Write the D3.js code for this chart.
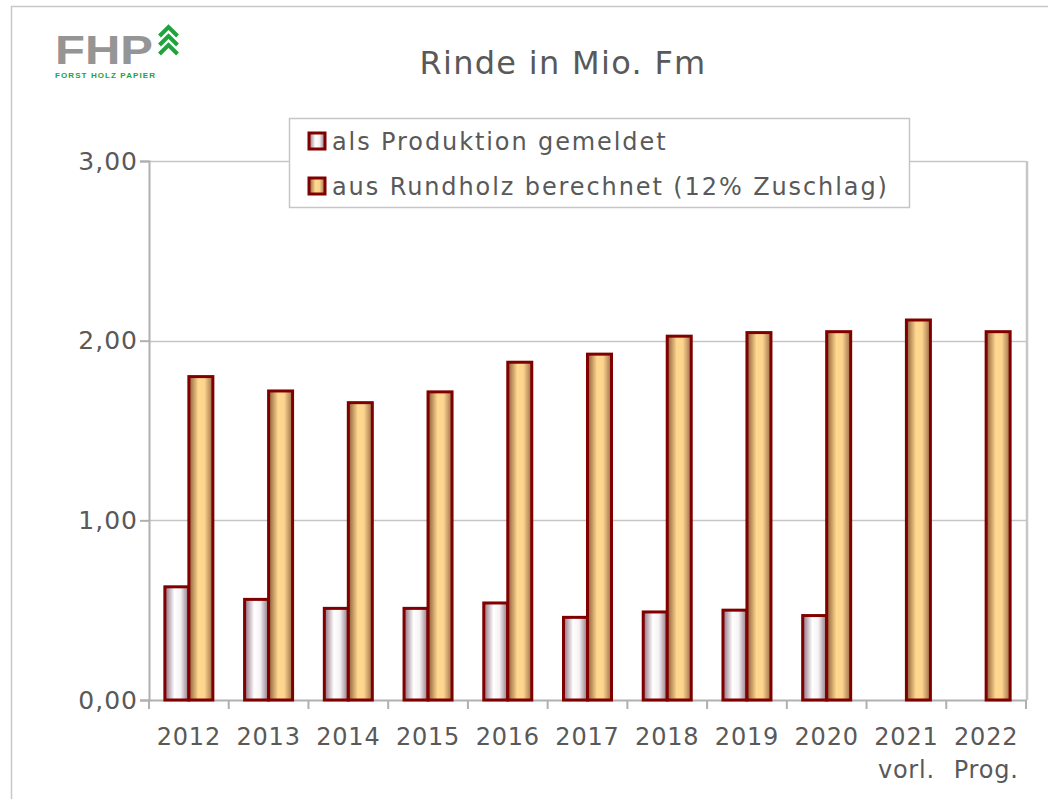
<!DOCTYPE html>
<html lang="en">
<head>
<meta charset="utf-8">
<script src="https://d3js.org/d3.v7.min.js"></script>
<style>
body { margin: 0; background: #fff; font-family: "DejaVu Sans", Verdana, sans-serif; }
</style>
</head>
<body>
<script>
// chart data
var years = ["2012", "2013", "2014", "2015", "2016", "2017", "2018", "2019", "2020", "2021", "2022"];
var subLabels = ["", "", "", "", "", "", "", "", "", "vorl.", "Prog."];
var produktion = [0.63, 0.56, 0.51, 0.51, 0.54, 0.46, 0.49, 0.50, 0.47, null, null];
var rundholz = [1.80, 1.72, 1.655, 1.715, 1.88, 1.925, 2.025, 2.045, 2.05, 2.115, 2.05];
var yTicks = [0, 1, 2, 3];
var seriesNames = ["als Produktion gemeldet", "aus Rundholz berechnet (12% Zuschlag)"];

var width = 1048, height = 799;
var plot = { left: 149, right: 1026, top: 161, bottom: 700 };
var textColor = "#595959";
var font = "DejaVu Sans, Verdana, sans-serif";

var svg = d3.select("body").append("svg")
  .attr("width", width)
  .attr("height", height);

var defs = svg.append("defs");

// white bar gradient
var gW = defs.append("linearGradient").attr("id", "gWhite").attr("x1", 0).attr("x2", 1).attr("y1", 0).attr("y2", 0);
gW.append("stop").attr("offset", "0%").attr("stop-color", "#8c6a7c");
gW.append("stop").attr("offset", "40%").attr("stop-color", "#ffffff");
gW.append("stop").attr("offset", "65%").attr("stop-color", "#f6f2f4");
gW.append("stop").attr("offset", "100%").attr("stop-color", "#8c7482");

// orange bar gradient
var gO = defs.append("linearGradient").attr("id", "gOrange").attr("x1", 0).attr("x2", 1).attr("y1", 0).attr("y2", 0);
gO.append("stop").attr("offset", "0%").attr("stop-color", "#8a5a38");
gO.append("stop").attr("offset", "40%").attr("stop-color", "#ffd990");
gO.append("stop").attr("offset", "65%").attr("stop-color", "#fdd48e");
gO.append("stop").attr("offset", "100%").attr("stop-color", "#9a6c4a");

// outer frame
svg.append("path")
  .attr("d", "M11.5," + height + "V6.5H" + width)
  .attr("fill", "none")
  .attr("stroke", "#c8c8c8")
  .attr("stroke-width", 1.5);

// logo
var logo = svg.append("g");
logo.append("text")
  .attr("x", 55).attr("y", 64)
  .attr("font-family", "Liberation Sans, Arial, sans-serif")
  .attr("font-weight", "bold")
  .attr("font-size", 40)
  .attr("textLength", 98)
  .attr("lengthAdjust", "spacingAndGlyphs")
  .attr("fill", "#959595")
  .text("FHP");
[0, 1, 2].forEach(function(i) {
  var y0 = 27 + i * 9;
  logo.append("path")
    .attr("d", "M159.5," + (y0 + 9) + "L168.5," + y0 + "L177.5," + (y0 + 9))
    .attr("fill", "none")
    .attr("stroke", "#1fa33c")
    .attr("stroke-width", 4);
});
logo.append("text")
  .attr("x", 55).attr("y", 78)
  .attr("font-family", "Liberation Sans, Arial, sans-serif")
  .attr("font-weight", "bold")
  .attr("font-size", 8)
  .attr("textLength", 100)
  .attr("fill", "#1fa33c")
  .text("FORST HOLZ PAPIER");

// title
svg.append("text")
  .attr("x", 563).attr("y", 74)
  .attr("text-anchor", "middle")
  .attr("font-size", 32)
  .attr("letter-spacing", 1.3)
  .attr("fill", textColor)
  .text("Rinde in Mio. Fm");

// scales
var x = d3.scaleBand().domain(years).range([plot.left, plot.right]);
var y = d3.scaleLinear().domain([0, 3]).range([plot.bottom, plot.top]);
var barW = 24;

// gridlines
svg.append("g").selectAll("line")
  .data(yTicks.slice(1))
  .join("line")
  .attr("x1", plot.left).attr("x2", plot.right)
  .attr("y1", function(d) { return Math.round(y(d)) + 0.5; })
  .attr("y2", function(d) { return Math.round(y(d)) + 0.5; })
  .attr("stroke", "#c6c6c6")
  .attr("stroke-width", 1.5);

// right border of plot
svg.append("line")
  .attr("x1", plot.right + 1).attr("x2", plot.right + 1)
  .attr("y1", plot.top).attr("y2", plot.bottom)
  .attr("stroke", "#c6c6c6").attr("stroke-width", 2.5);

// y axis
var yAxis = svg.append("g")
  .attr("transform", "translate(" + plot.left + ",0)")
  .call(d3.axisLeft(y).tickValues(yTicks).tickSize(9).tickPadding(2)
    .tickFormat(function(d) { return d3.format(".2f")(d).replace(".", ","); }));
yAxis.selectAll("path, line").attr("stroke", "#b0b0b0").attr("stroke-width", 2);
yAxis.selectAll("text").attr("font-size", 25).attr("letter-spacing", 1).attr("fill", textColor).attr("font-family", font);

// x axis
var xAxis = svg.append("g")
  .attr("transform", "translate(0," + plot.bottom + ")")
  .call(d3.axisBottom(x).tickSize(0).tickPadding(28));
xAxis.select(".domain").attr("stroke", "#b0b0b0").attr("stroke-width", 2);
xAxis.selectAll("text").attr("font-size", 24).attr("letter-spacing", 0.8).attr("fill", textColor).attr("font-family", font);
xAxis.selectAll(".tick").append("text")
  .attr("y", 78)
  .attr("fill", textColor)
  .attr("font-size", 24)
  .attr("letter-spacing", 0.8)
  .attr("font-family", font)
  .text(function(d, i) { return subLabels[i]; });
// category separator ticks
svg.append("g").selectAll("line")
  .data(years.concat(["end"]))
  .join("line")
  .attr("x1", function(d, i) { return plot.left + i * x.step(); })
  .attr("x2", function(d, i) { return plot.left + i * x.step(); })
  .attr("y1", plot.bottom).attr("y2", plot.bottom + 9)
  .attr("stroke", "#b0b0b0").attr("stroke-width", 2);

// bars
var bars = svg.append("g");
bars.selectAll("rect.prod")
  .data(years.map(function(yr, i) { return { year: yr, v: produktion[i] }; }).filter(function(d) { return d.v != null; }))
  .join("rect")
  .attr("class", "prod")
  .attr("x", function(d) { return x(d.year) + x.bandwidth() / 2 - barW; })
  .attr("y", function(d) { return y(d.v); })
  .attr("width", barW)
  .attr("height", function(d) { return y(0) - y(d.v); })
  .attr("fill", "url(#gWhite)")
  .attr("stroke", "#800000")
  .attr("stroke-width", 3);

bars.selectAll("rect.rund")
  .data(years.map(function(yr, i) { return { year: yr, v: rundholz[i] }; }))
  .join("rect")
  .attr("class", "rund")
  .attr("x", function(d) { return x(d.year) + x.bandwidth() / 2; })
  .attr("y", function(d) { return y(d.v); })
  .attr("width", barW)
  .attr("height", function(d) { return y(0) - y(d.v); })
  .attr("fill", "url(#gOrange)")
  .attr("stroke", "#800000")
  .attr("stroke-width", 3);

// legend
var legend = svg.append("g");
legend.append("rect")
  .attr("x", 289.5).attr("y", 118.5)
  .attr("width", 620).attr("height", 89)
  .attr("fill", "#fff")
  .attr("stroke", "#c6c6c6")
  .attr("stroke-width", 1.5);
var fills = ["url(#gWhite)", "url(#gOrange)"];
var items = legend.selectAll("g.item")
  .data(seriesNames)
  .join("g")
  .attr("class", "item")
  .attr("transform", function(d, i) { return "translate(309," + (141 + i * 45) + ")"; });
items.append("rect")
  .attr("x", 0).attr("y", -8)
  .attr("width", 16).attr("height", 16)
  .attr("fill", function(d, i) { return fills[i]; })
  .attr("stroke", "#800000")
  .attr("stroke-width", 3);
items.append("text")
  .attr("x", 23).attr("y", 9)
  .attr("font-size", 24)
  .attr("letter-spacing", 1.9)
  .attr("fill", textColor)
  .text(function(d) { return d; });
</script>
</body>
</html>
